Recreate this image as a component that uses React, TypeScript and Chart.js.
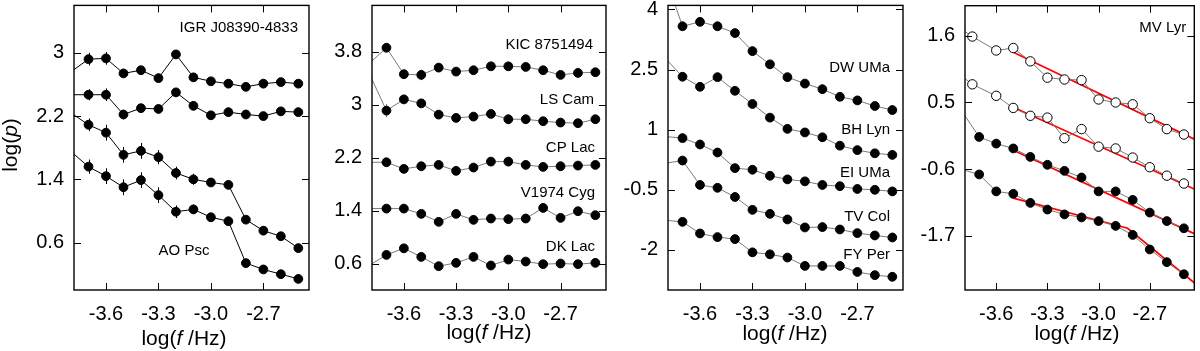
import React, { useEffect, useRef } from "react";
import { Chart, registerables } from "chart.js";

Chart.register(...registerables);

const FONT = "'Liberation Sans', Arial, Helvetica, sans-serif";

// ---------- data ----------
const freqX = [-3.8, -3.7, -3.6, -3.5, -3.4, -3.3, -3.2, -3.1, -3.0, -2.9, -2.8, -2.7, -2.6, -2.5];
const freqXOpen = [-3.84, -3.74, -3.6, -3.5, -3.4, -3.3, -3.2, -3.1, -3.0, -2.9, -2.8, -2.7, -2.6, -2.5];
const xTickValues = [-3.6, -3.3, -3.0, -2.7];
const xTickLabels = ["-3.6", "-3.3", "-3.0", "-2.7"];

// panel 1
const igrUpper = [2.76, 2.92, 2.93, 2.74, 2.78, 2.68, 2.98, 2.69, 2.64, 2.61, 2.57, 2.61, 2.63, 2.61];
const igrLower = [2.47, 2.47, 2.47, 2.22, 2.30, 2.29, 2.50, 2.33, 2.21, 2.25, 2.22, 2.20, 2.26, 2.25];
const aoUpper = [2.24, 2.09, 1.99, 1.71, 1.76, 1.68, 1.48, 1.40, 1.36, 1.33, 0.89, 0.75, 0.68, 0.53];
const aoLower = [1.75, 1.56, 1.44, 1.30, 1.39, 1.20, 0.99, 1.02, 0.92, 0.87, 0.34, 0.26, 0.20, 0.14];
const igrUpperErr = [0, 0.08, 0.08, 0.05, 0.05, 0.05, 0.05, 0.04, 0.03, 0.03, 0.03, 0.03, 0.03, 0.03];
const igrLowerErr = [0, 0.07, 0.08, 0.06, 0.05, 0.05, 0.05, 0.04, 0.03, 0.03, 0.03, 0.03, 0.03, 0.03];
const aoUpperErr = [0, 0.08, 0.10, 0.10, 0.10, 0.09, 0.08, 0.07, 0.05, 0.05, 0.04, 0.04, 0.04, 0.03];
const aoLowerErr = [0, 0.09, 0.10, 0.10, 0.10, 0.10, 0.08, 0.06, 0.05, 0.05, 0.04, 0.04, 0.04, 0.03];
const yTicks1 = [3, 2.2, 1.4, 0.6];
const yTickLabels1 = ["3", "2.2", "1.4", "0.6"];

// panel 2
const kic = [3.62, 3.86, 3.46, 3.45, 3.56, 3.50, 3.52, 3.58, 3.58, 3.57, 3.52, 3.45, 3.48, 3.49];
const lsCam = [3.48, 2.91, 3.08, 3.02, 2.85, 2.80, 2.82, 2.86, 2.78, 2.78, 2.75, 2.73, 2.72, 2.78];
const cpLac = [2.13, 2.13, 2.03, 2.07, 2.09, 2.00, 2.05, 2.14, 2.14, 2.09, 2.06, 2.07, 2.08, 2.09];
const v1974Cyg = [1.43, 1.43, 1.43, 1.35, 1.23, 1.35, 1.26, 1.28, 1.27, 1.28, 1.44, 1.29, 1.39, 1.33];
const dkLac = [0.57, 0.73, 0.83, 0.70, 0.56, 0.61, 0.70, 0.57, 0.66, 0.63, 0.59, 0.60, 0.59, 0.61];
const kicErr = [0, 0.06, 0.07, 0.08, 0.05, 0.04, 0.04, 0.03, 0.03, 0.03, 0.03, 0.03, 0.03, 0.03];
const lsCamErr = [0, 0.10, 0.07, 0.05, 0.04, 0.04, 0.03, 0.03, 0.03, 0.03, 0.03, 0.03, 0.03, 0.03];
const yTicks2 = [3.8, 3, 2.2, 1.4, 0.6];
const yTickLabels2 = ["3.8", "3", "2.2", "1.4", "0.6"];

// panel 3
const dwUMa = [4.83, 3.58, 3.69, 3.58, 3.41, 2.96, 2.63, 2.31, 2.15, 2.01, 1.82, 1.73, 1.59, 1.49];
const bhLyn = [2.79, 2.32, 2.07, 2.31, 1.97, 1.64, 1.30, 1.02, 0.93, 0.81, 0.60, 0.49, 0.41, 0.37];
const eiUMa = [0.83, 0.79, 0.63, 0.43, 0.04, 0.00, -0.15, -0.24, -0.29, -0.38, -0.41, -0.48, -0.50, -0.54];
const tvCol = [0.16, 0.23, -0.38, -0.45, -0.68, -1.00, -1.10, -1.24, -1.44, -1.43, -1.49, -1.58, -1.64, -1.69];
const fyPer = [-1.26, -1.30, -1.59, -1.68, -1.73, -2.06, -2.11, -2.19, -2.40, -2.40, -2.40, -2.55, -2.63, -2.67];
const yTicks3 = [4, 2.5, 1, -0.5, -2];
const yTickLabels3 = ["4", "2.5", "1", "-0.5", "-2"];

// panel 4 (MV Lyr)
const mvOpenUpper = [1.78, 1.59, 1.36, 1.40, 1.18, 0.91, 0.88, 0.87, 0.55, 0.50, 0.47, 0.24, 0.06, -0.03];
const mvOpenLower = [1.02, 0.80, 0.61, 0.41, 0.28, 0.25, -0.09, 0.06, -0.23, -0.26, -0.41, -0.57, -0.71, -0.84];
const mvFilledUpper = [0.35, -0.07, -0.18, -0.26, -0.40, -0.53, -0.63, -0.74, -0.97, -0.97, -1.11, -1.32, -1.46, -1.58];
const mvFilledLower = [-0.61, -0.69, -0.97, -1.01, -1.16, -1.27, -1.35, -1.40, -1.46, -1.54, -1.69, -1.93, -2.14, -2.34];
const fitX = [-3.5, -2.4];
const fitOpenUpper = [1.33, -0.16];
const fitOpenLower = [0.42, -0.98];
const fitFilledUpper = [-0.29, -1.72];
const fitBrokenX = [-3.5, -2.83, -2.4];
const fitFilledLower = [-1.08, -1.58, -2.57];
const yTicks4 = [1.6, 0.5, -0.6, -1.7];
const yTickLabels4 = ["1.6", "0.5", "-0.6", "-1.7"];

// labels
const labels1 = ["IGR J08390-4833", "AO Psc"];
const labels2 = ["KIC 8751494", "LS Cam", "CP Lac", "V1974 Cyg", "DK Lac"];
const labels3 = ["DW UMa", "BH Lyn", "EI UMa", "TV Col", "FY Per"];
const labels4 = ["MV Lyr"];

// ---------- helpers ----------
type Lbl = { text: string; x: number; y: number; align: CanvasTextAlign };

function series(xs: number[], ys: number[], color: string, open = false, err?: number[], r = 4.4) {
  return {
    type: "line",
    data: xs.map((x, i) => ({ x, y: ys[i] })),
    borderColor: color,
    borderWidth: 1,
    pointRadius: xs.map((_, i) => (i === 0 ? 0 : r)),
    pointBackgroundColor: open ? "#ffffff" : "#000000",
    pointBorderColor: "#000000",
    pointBorderWidth: 1,
    tension: 0,
    fill: false,
    errorBars: err,
  } as any;
}

function fit(xs: number[], ys: number[]) {
  return {
    type: "line",
    data: xs.map((x, i) => ({ x, y: ys[i] })),
    borderColor: "#ff0000",
    borderWidth: 1.7,
    pointRadius: 0,
    tension: 0,
    fill: false,
  } as any;
}

const framePlugin = {
  id: "frame",
  beforeDatasetsDraw(chart: any) {
    const { ctx, scales } = chart;
    const x = scales.x, y = scales.y;
    ctx.save();
    ctx.lineWidth = 1;
    chart.data.datasets.forEach((ds: any) => {
      if (!ds.errorBars) return;
      ctx.strokeStyle = ds.borderColor;
      ctx.beginPath();
      ds.data.forEach((p: any, i: number) => {
        const e = ds.errorBars[i];
        if (!e) return;
        const px = Math.round(x.getPixelForValue(p.x)) + 0.5;
        ctx.moveTo(px, y.getPixelForValue(p.y - e));
        ctx.lineTo(px, y.getPixelForValue(p.y + e));
      });
      ctx.stroke();
    });
    ctx.restore();
  },
  afterDraw(chart: any, _args: any, opts: any) {
    const { ctx, chartArea: a, scales } = chart;
    const x = scales.x, y = scales.y;
    ctx.save();
    ctx.strokeStyle = "#000";
    ctx.lineWidth = 1;
    ctx.beginPath();
    y.ticks.forEach((t: any) => {
      const py = Math.round(y.getPixelForValue(t.value)) + 0.5;
      ctx.moveTo(a.left, py); ctx.lineTo(a.left + 7, py);
      ctx.moveTo(a.right, py); ctx.lineTo(a.right - 7, py);
    });
    x.ticks.forEach((t: any) => {
      const px = Math.round(x.getPixelForValue(t.value)) + 0.5;
      ctx.moveTo(px, a.bottom); ctx.lineTo(px, a.bottom - 7);
      ctx.moveTo(px, a.top); ctx.lineTo(px, a.top + 7);
    });
    ctx.stroke();
    ctx.lineWidth = 1.4;
    ctx.strokeRect(a.left, a.top, a.right - a.left, a.bottom - a.top);
    ctx.fillStyle = "#000";
    ctx.font = `15px ${FONT}`;
    ctx.textBaseline = "middle";
    (opts.labels || []).forEach((l: Lbl) => {
      ctx.textAlign = l.align;
      ctx.fillText(l.text, l.x < 0 ? a.right + l.x : l.x, l.y);
    });
    ctx.restore();
  },
};

type PanelCfg = {
  left: number;
  width: number;
  yWidth: number;
  padRight: number;
  yMin: number;
  yMax: number;
  yTicks: number[];
  yTickLabels: string[];
  datasets: any[];
  labels: Lbl[];
};

function Panel({ cfg }: { cfg: PanelCfg }) {
  const ref = useRef<HTMLCanvasElement>(null);
  useEffect(() => {
    const chart = new Chart(ref.current as HTMLCanvasElement, {
      type: "line",
      data: { datasets: cfg.datasets },
      plugins: [framePlugin as any],
      options: {
        responsive: false,
        animation: false,
        devicePixelRatio: 1,
        layout: { padding: { left: 0, right: cfg.padRight, top: 4, bottom: 0 } },
        plugins: {
          legend: { display: false },
          tooltip: { enabled: false },
          frame: { labels: cfg.labels },
        } as any,
        scales: {
          x: {
            type: "linear",
            position: "bottom",
            min: -3.783,
            max: -2.439,
            grid: { display: false, drawTicks: false },
            border: { display: false },
            ticks: {
              autoSkip: false,
              maxRotation: 0,
              padding: 12,
              color: "#000",
              font: { family: FONT, size: 20 },
              callback: (v: any) => xTickLabels[xTickValues.indexOf(Number(v))] ?? "",
            },
            afterBuildTicks: (s: any) => {
              s.ticks = xTickValues.map((v) => ({ value: v }));
            },
            afterFit: (s: any) => {
              s.height = 61;
              s.paddingLeft = 0;
              s.paddingRight = 0;
            },
          },
          y: {
            type: "linear",
            position: "left",
            min: cfg.yMin,
            max: cfg.yMax,
            grid: { display: false, drawTicks: false },
            border: { display: false },
            ticks: {
              autoSkip: false,
              padding: 10,
              color: "#000",
              font: { family: FONT, size: 20 },
              callback: (v: any) => cfg.yTickLabels[cfg.yTicks.indexOf(Number(v))] ?? "",
            },
            afterBuildTicks: (s: any) => {
              s.ticks = cfg.yTicks.map((v) => ({ value: v }));
            },
            afterFit: (s: any) => {
              s.width = cfg.yWidth;
              s.paddingTop = 0;
              s.paddingBottom = 0;
            },
          },
        },
      } as any,
    });
    return () => chart.destroy();
  }, []);
  return (
    <canvas
      ref={ref}
      width={cfg.width}
      height={351}
      style={{ position: "absolute", left: cfg.left, top: 0, width: cfg.width, height: 351 }}
    />
  );
}

const GRAY = "#7a7a7a";

const panels: PanelCfg[] = [
  {
    left: 0, width: 316, yWidth: 74, padRight: 7,
    yMin: 0, yMax: 3.6, yTicks: yTicks1, yTickLabels: yTickLabels1,
    datasets: [
      series(freqX, igrUpper, "#000", false, igrUpperErr),
      series(freqX, igrLower, "#000", false, igrLowerErr),
      series(freqX, aoUpper, "#000", false, aoUpperErr),
      series(freqX, aoLower, "#000", false, aoLowerErr),
    ],
    labels: [
      { text: labels1[0], x: -11, y: 28, align: "right" },
      { text: labels1[1], x: 184, y: 251, align: "center" },
    ],
  },
  {
    left: 316, width: 296, yWidth: 56, padRight: 6,
    yMin: 0.2, yMax: 4.5, yTicks: yTicks2, yTickLabels: yTickLabels2,
    datasets: [
      series(freqX, kic, GRAY, false, kicErr),
      series(freqX, lsCam, GRAY, false, lsCamErr),
      series(freqX, cpLac, GRAY),
      series(freqX, v1974Cyg, GRAY),
      series(freqX, dkLac, GRAY),
    ],
    labels: [
      { text: labels2[0], x: -13, y: 45, align: "right" },
      { text: labels2[1], x: -12, y: 100, align: "right" },
      { text: labels2[2], x: -11, y: 148, align: "right" },
      { text: labels2[3], x: -11, y: 193, align: "right" },
      { text: labels2[4], x: -11, y: 247, align: "right" },
    ],
  },
  {
    left: 612, width: 297, yWidth: 56, padRight: 6,
    yMin: -3, yMax: 4.1, yTicks: yTicks3, yTickLabels: yTickLabels3,
    datasets: [
      series(freqX, dwUMa, GRAY),
      series(freqX, bhLyn, GRAY),
      series(freqX, eiUMa, GRAY),
      series(freqX, tvCol, GRAY),
      series(freqX, fyPer, GRAY),
    ],
    labels: [
      { text: labels3[0], x: -13, y: 68, align: "right" },
      { text: labels3[1], x: -13, y: 130, align: "right" },
      { text: labels3[2], x: -13, y: 173, align: "right" },
      { text: labels3[3], x: -13, y: 217, align: "right" },
      { text: labels3[4], x: -13, y: 255, align: "right" },
    ],
  },
  {
    left: 909, width: 291, yWidth: 56, padRight: 2,
    yMin: -2.6, yMax: 2.1, yTicks: yTicks4, yTickLabels: yTickLabels4,
    datasets: [
      series(freqXOpen, mvOpenUpper, GRAY, true, undefined, 4.7),
      series(freqXOpen, mvOpenLower, GRAY, true, undefined, 4.7),
      series(freqX, mvFilledUpper, GRAY),
      series(freqX, mvFilledLower, GRAY),
      fit(fitX, fitOpenUpper),
      fit(fitX, fitOpenLower),
      fit(fitX, fitFilledUpper),
      fit(fitBrokenX, fitFilledLower),
    ],
    labels: [{ text: labels4[0], x: -8, y: 28, align: "right" }],
  },
];

const xTitleCenters = [184, 489, 785, 1077];
const xTitleTops = [326, 320, 321, 321];

export default function App() {
  const titleStyle: React.CSSProperties = {
    position: "absolute",
    fontFamily: FONT,
    fontSize: 21,
    lineHeight: "24px",
    color: "#000",
    whiteSpace: "nowrap",
    width: 140,
    textAlign: "center",
  };
  return (
    <div style={{ position: "absolute", left: 0, top: 0, width: 1200, height: 351, background: "#fff", overflow: "hidden" }}>
      {panels.map((p, i) => (
        <Panel key={i} cfg={p} />
      ))}
      {xTitleCenters.map((cx, i) => (
        <div key={"xt" + i} style={{ ...titleStyle, left: cx - 70, top: xTitleTops[i] }}>
          log(<i>f</i> /Hz)
        </div>
      ))}
      <div
        style={{
          ...titleStyle,
          left: 10 - 70,
          top: 145 - 12,
          transform: "rotate(-90deg)",
          transformOrigin: "50% 50%",
        }}
      >
        log(<i>p</i>)
      </div>
    </div>
  );
}
